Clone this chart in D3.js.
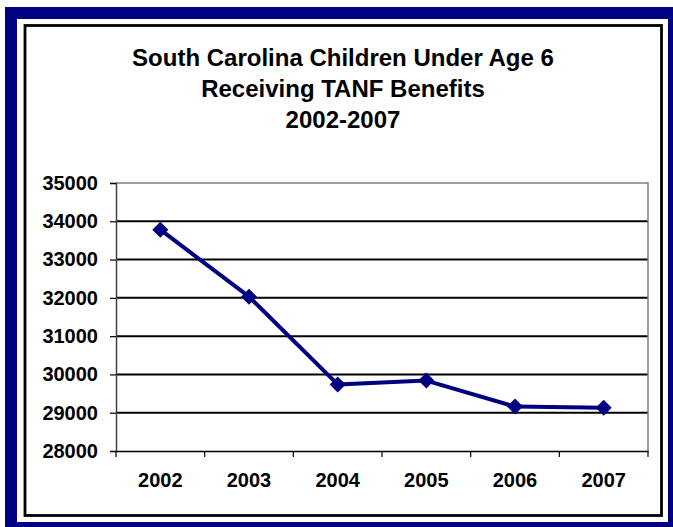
<!DOCTYPE html>
<html><head><meta charset="utf-8">
<script src="https://cdn.jsdelivr.net/npm/d3@7"></script>
<style>body{margin:0;background:#fff}svg{display:block}</style>
</head><body>
<script>
const years = ["2002","2003","2004","2005","2006","2007"];
const values = [33780, 32030, 29740, 29840, 29160, 29130];
const yTicks = [28000,29000,30000,31000,32000,33000,34000,35000];
const titleLines = ["South Carolina Children Under Age 6","Receiving TANF Benefits","2002-2007"];

const W=673,H=527;
const svg=d3.select("body").append("svg").attr("width",W).attr("height",H);
svg.append("rect").attr("x",5).attr("y",7).attr("width",W-5).attr("height",H-7).attr("fill","#000080");
svg.append("rect").attr("x",17).attr("y",19).attr("width",651).attr("height",503).attr("fill","#fff");
svg.append("rect").attr("x",25).attr("y",25.5).attr("width",636.5).attr("height",490).attr("fill","none").attr("stroke","#000").attr("stroke-width",2.8);

const font="'Liberation Sans', Arial, sans-serif";
svg.append("g").selectAll("text").data(titleLines).join("text")
  .attr("x",343).attr("y",(d,i)=>66+i*31).attr("text-anchor","middle")
  .attr("font-family",font).attr("font-weight","bold").attr("font-size",24).attr("fill","#000").text(d=>d);

const L=116,R=648,T=183,B=451;
const x=d3.scaleBand().domain(years).range([L,R]);
const y=d3.scaleLinear().domain([28000,35000]).range([B,T]);

// gridlines
svg.append("g").selectAll("line").data(yTicks.filter(v=>v>28000&&v<35000)).join("line")
  .attr("x1",L).attr("x2",R).attr("y1",d=>y(d)).attr("y2",d=>y(d)).attr("stroke","#000").attr("stroke-width",2);
// plot border top & right
svg.append("path").attr("d",`M${L},${T}H${R}V${B}`).attr("fill","none").attr("stroke","#808080").attr("stroke-width",1.5);

// y axis
const ya=svg.append("g").attr("transform",`translate(${L},0)`).call(d3.axisLeft(y).tickValues(yTicks).tickSize(6).tickPadding(12).tickFormat(d3.format("d")));
ya.select(".domain").attr("stroke","#404040").attr("stroke-width",1.5);
ya.selectAll(".tick line").attr("stroke","#000").attr("stroke-width",1.2);
ya.selectAll("text").attr("font-family",font).attr("font-weight","bold").attr("font-size",20).attr("fill","#000");

// x axis
const xa=svg.append("g").attr("transform",`translate(0,${B})`).call(d3.axisBottom(x).tickSize(0).tickPadding(22));
xa.select(".domain").attr("stroke","#000").attr("stroke-width",1.5);
xa.selectAll("text").attr("font-family",font).attr("font-weight","bold").attr("font-size",20).attr("fill","#000");
svg.append("g").selectAll("line").data(years.map((d,i)=>i).concat([years.length])).join("line")
  .attr("x1",i=>L+i*x.step()).attr("x2",i=>L+i*x.step()).attr("y1",B).attr("y2",B+6).attr("stroke","#000").attr("stroke-width",1.2);

const cx=d=>x(d)+x.bandwidth()/2;
svg.append("path").datum(years.map((d,i)=>[cx(d),y(values[i])]))
  .attr("d",d3.line()).attr("fill","none").attr("stroke","#000080").attr("stroke-width",4).attr("stroke-linejoin","round");
svg.append("g").selectAll("path").data(years).join("path")
  .attr("transform",(d,i)=>`translate(${cx(d)},${y(values[i])})`)
  .attr("d","M0,-8L8,0L0,8L-8,0Z").attr("fill","#000080");
</script>
</body></html>
